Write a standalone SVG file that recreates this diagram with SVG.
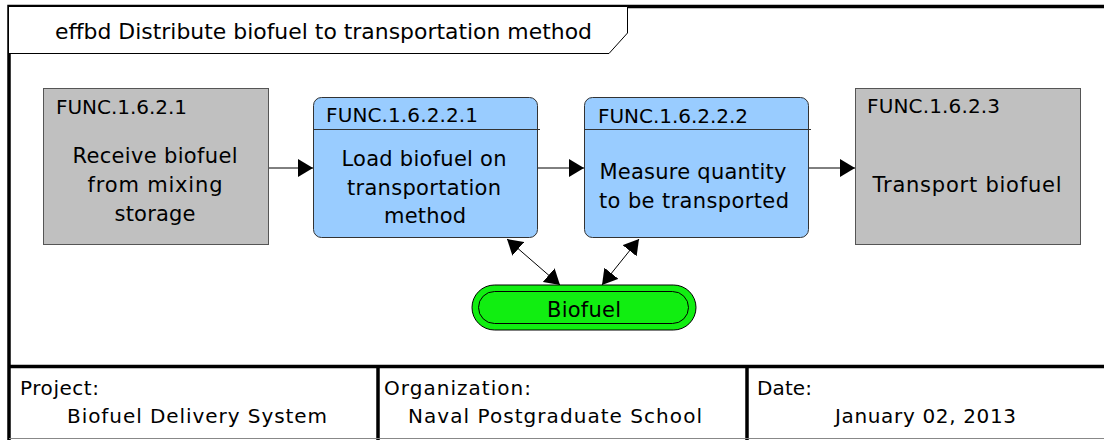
<svg xmlns="http://www.w3.org/2000/svg" width="1104" height="440" viewBox="0 0 1104 440">
<style>
text{font-family:"DejaVu Sans","Liberation Sans",sans-serif;fill:#000}
.t20{font-size:20px}
.t21{font-size:21px}
.mid{text-anchor:middle}
.frame{stroke:#000;stroke-width:3.5;fill:none}
.gray{fill:#c0c0c0;stroke:#555;stroke-width:1}
.blue{fill:#99ccff;stroke:#333;stroke-width:1}
.conn{stroke:#000;stroke-width:1;fill:none}
</style>
<defs>
<marker id="ah" markerUnits="userSpaceOnUse" markerWidth="16" markerHeight="18" refX="15" refY="9" orient="auto-start-reverse">
<path d="M0,0 L15,9 L0,18 z" fill="#000"/>
</marker>
</defs>
<rect x="0" y="0" width="1104" height="440" fill="#fff"/>
<g id="frame">
<path class="frame" d="M9,440 V6.5 H1104"/>
<line class="frame" x1="9" y1="366.5" x2="1104" y2="366.5"/>
<line class="frame" x1="378" y1="366.5" x2="378" y2="440"/>
<line class="frame" x1="747" y1="366.5" x2="747" y2="440"/>
<line x1="9" y1="438.5" x2="1104" y2="438.5" stroke="#888" stroke-width="1"/>
</g>
<g id="title">
<path d="M9,6.5 H627.5 V33 L609,53.5 H9" fill="#fff" stroke="#000" stroke-width="1"/>
<text class="t21" x="55" y="39" textLength="537" lengthAdjust="spacingAndGlyphs">effbd Distribute biofuel to transportation method</text>
</g>
<g id="connectors">
<line class="conn" x1="269" y1="168" x2="313" y2="168" marker-end="url(#ah)"/>
<line class="conn" x1="538" y1="168" x2="584" y2="168" marker-end="url(#ah)"/>
<line class="conn" x1="808" y1="168" x2="855" y2="168" marker-end="url(#ah)"/>
<line class="conn" x1="507" y1="239" x2="560" y2="285" marker-start="url(#ah)" marker-end="url(#ah)"/>
<line class="conn" x1="639" y1="239" x2="602" y2="285" marker-start="url(#ah)" marker-end="url(#ah)"/>
</g>
<g id="FUNC.1.6.2.1">
<rect class="gray" x="43.5" y="88.5" width="225" height="156"/>
<text class="t20" x="56" y="114" textLength="131">FUNC.1.6.2.1</text>
<text class="t21 mid" x="155" y="163" textLength="165">Receive biofuel</text>
<text class="t21 mid" x="155" y="192" textLength="135">from mixing</text>
<text class="t21 mid" x="155" y="221" textLength="81">storage</text>
</g>
<g id="FUNC.1.6.2.2.1">
<rect class="blue" x="313.5" y="97.5" width="224" height="140" rx="8"/>
<line x1="313.5" y1="129.5" x2="540" y2="129.5" stroke="#333" stroke-width="1"/>
<text class="t20" x="326" y="122" textLength="152">FUNC.1.6.2.2.1</text>
<text class="t21 mid" x="424" y="166" textLength="165">Load biofuel on</text>
<text class="t21 mid" x="424" y="195" textLength="154">transportation</text>
<text class="t21 mid" x="425" y="223" textLength="82">method</text>
</g>
<g id="FUNC.1.6.2.2.2">
<rect class="blue" x="584.5" y="97.5" width="224" height="140" rx="8"/>
<line x1="584.5" y1="129.5" x2="811" y2="129.5" stroke="#333" stroke-width="1"/>
<text class="t20" x="598" y="123" textLength="150">FUNC.1.6.2.2.2</text>
<text class="t21 mid" x="693" y="179" textLength="187">Measure quantity</text>
<text class="t21 mid" x="694" y="208" textLength="190">to be transported</text>
</g>
<g id="FUNC.1.6.2.3">
<rect class="gray" x="855.5" y="88.5" width="225" height="156"/>
<text class="t20" x="867" y="113" textLength="133">FUNC.1.6.2.3</text>
<text class="t21 mid" x="967" y="192" textLength="189">Transport biofuel</text>
</g>
<g id="Biofuel">
<rect x="472" y="285" width="224" height="45" rx="22.5" fill="#11ee11" stroke="#000" stroke-width="1"/>
<rect x="478.5" y="291.5" width="210" height="32" rx="16" fill="none" stroke="#000" stroke-width="1"/>
<text class="t21 mid" x="584" y="317" textLength="74">Biofuel</text>
</g>
<g id="footer">
<text class="t20" x="20" y="395" textLength="79">Project:</text>
<text class="t20" x="67" y="423" textLength="260">Biofuel Delivery System</text>
<text class="t20" x="384" y="395" textLength="147">Organization:</text>
<text class="t20" x="408" y="423" textLength="294">Naval Postgraduate School</text>
<text class="t20" x="757" y="395" textLength="55">Date:</text>
<text class="t20" x="835" y="423" textLength="181">January 02, 2013</text>
</g>
</svg>
